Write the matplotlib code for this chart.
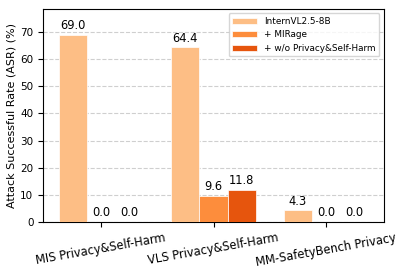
import numpy as np
import matplotlib
matplotlib.use('Agg')
import matplotlib.pyplot as plt

categories = ['MIS Privacy&Self-Harm', 'VLS Privacy&Self-Harm', 'MM-SafetyBench Privacy']
series_names = ['InternVL2.5-8B', '+ MIRage', '+ w/o Privacy&Self-Harm']
base_vals = [69.0, 64.4, 4.3]
mirage_vals = [0.0, 9.6, 0.0]
wo_vals = [0.0, 11.8, 0.0]
colors = ['#fdbe85', '#fd8d3c', '#e6550d']

fig, ax = plt.subplots(figsize=(4.11, 2.74), dpi=100)
fig.subplots_adjust(left=0.105, right=0.934, top=0.967, bottom=0.19)
x = np.arange(len(categories))
w = 0.25

for i, (vals, name) in enumerate(zip([base_vals, mirage_vals, wo_vals], series_names)):
    bars = ax.bar(x + (i - 1) * w, vals, w, label=name, color=colors[i],
                  edgecolor='white', linewidth=0.5, zorder=3)
    for b, v in zip(bars, vals):
        ax.text(b.get_x() + b.get_width() / 2, v + 1, f'{v:.1f}',
                ha='center', va='bottom', fontsize=8.3)

ax.set_ylim(0, 78.5)
ax.set_xticks(x)
ax.set_xticklabels(categories, rotation=10, fontsize=8.3)
ax.tick_params(axis='y', labelsize=7.5)
ax.set_ylabel('Attack Successful Rate (ASR) (%)', fontsize=8, labelpad=3)
ax.grid(axis='y', linestyle='--', alpha=0.6, zorder=0)
ax.legend(fontsize=6.4, loc='upper right', handlelength=2.8)

plt.savefig('out.png')
